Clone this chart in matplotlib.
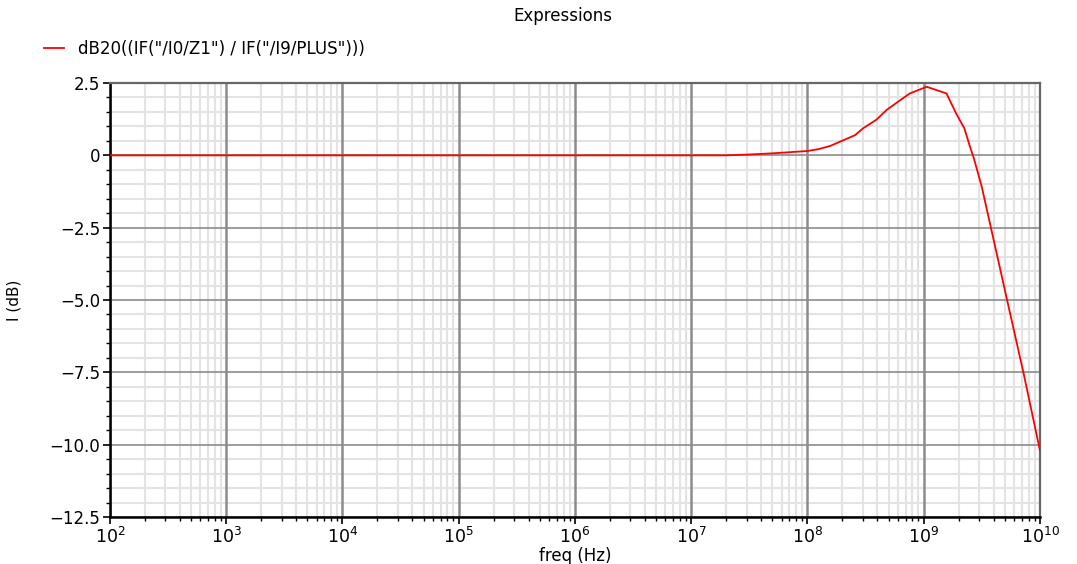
import matplotlib
matplotlib.use("Agg")
import matplotlib.pyplot as plt
from matplotlib.ticker import LogLocator, MultipleLocator, FixedLocator, FixedFormatter, NullFormatter
# --------------------------------------------------------------

# data (freq in Hz, gain in dB)
freq = [1e2, 1e3, 1e4, 1e5, 1e6, 1e7, 2e7, 3.16e7, 5e7, 1e8, 1.26e8, 1.58e8,
        1.9e8, 2.57e8, 3.0e8, 3.94e8, 4.8e8, 5.9e8, 7.6e8, 1.06e9, 1.57e9,
        1.9e9, 2.24e9, 2.5e9, 2.7e9, 3.16e9, 5.25e9, 7.2e9, 1e10]
gain = [0.0, 0.0, 0.0, 0.0, 0.0, 0.0, 0.0, 0.03, 0.07, 0.15, 0.22, 0.33,
        0.47, 0.70, 0.93, 1.24, 1.57, 1.83, 2.14, 2.37, 2.14,
        1.45, 0.93, 0.30, -0.10, -1.09, -5.05, -7.5, -10.2]
label = 'dB20((IF("/I0/Z1") / IF("/I9/PLUS")))'
xticks = [1e2, 1e3, 1e4, 1e5, 1e6, 1e7, 1e8, 1e9, 1e10]
yticks = [2.5, 0, -2.5, -5.0, -7.5, -10.0, -12.5]
ylabels = ["2.5", "0", "\u22122.5", "\u22125.0", "\u22127.5", "\u221210.0", "\u221212.5"]
# --------------------------------------------------------------

fig = plt.figure(figsize=(10.77, 5.64), dpi=100)
ax = fig.add_axes([0.1021, 0.0833, 0.8635, 0.7695])

line, = ax.plot(freq, gain, color="red", linewidth=1.3, label=label, zorder=3)

# axes / scales
ax.set_xscale("log")
ax.set_xlim(1e2, 1e10)
ax.set_ylim(-12.5, 2.5)
ax.xaxis.set_major_locator(FixedLocator(xticks))
ax.xaxis.set_minor_locator(LogLocator(base=10, subs=range(2, 10), numticks=100))
ax.xaxis.set_minor_formatter(NullFormatter())
ax.yaxis.set_major_locator(FixedLocator(yticks))
ax.yaxis.set_major_formatter(FixedFormatter(ylabels))
ax.yaxis.set_minor_locator(MultipleLocator(0.5))

# grid: light minor, major lines on top of them
ax.grid(True, which="minor", color="#e3e3e3", linewidth=1.5, zorder=0)
ax.set_axisbelow(True)
for xt in xticks:
  ax.axvline(xt, color="#8c8c8c", linewidth=1.8, zorder=1)
for yt in yticks:
  ax.axhline(yt, color="#8c8c8c", linewidth=1.2, zorder=1)

# spines + ticks
for s in ["left", "bottom"]:
  ax.spines[s].set_color("black")
  ax.spines[s].set_linewidth(1.8)
for s in ["top", "right"]:
  ax.spines[s].set_color("#666666")
  ax.spines[s].set_linewidth(1.6)
ax.tick_params(which="major", direction="out", length=5, width=1.2, labelsize=12.5, colors="black", pad=2)
ax.tick_params(which="minor", direction="out", length=3, width=1.0)
ax.tick_params(axis="y", labelsize=12)

# labels
fig.text(0.523, 0.972, "Expressions", ha="center", va="center", fontsize=12)
ax.set_xlabel("freq (Hz)", fontsize=12, labelpad=0)
ax.set_ylabel("I (dB)", fontsize=11, labelpad=20)
fig.legend(handles=[line], loc="center left", bbox_to_anchor=(0.035, 0.913),
           frameon=False, fontsize=12, handlelength=1.2, handletextpad=0.8,
           borderaxespad=0)

fig.savefig("out.png", dpi=100)
